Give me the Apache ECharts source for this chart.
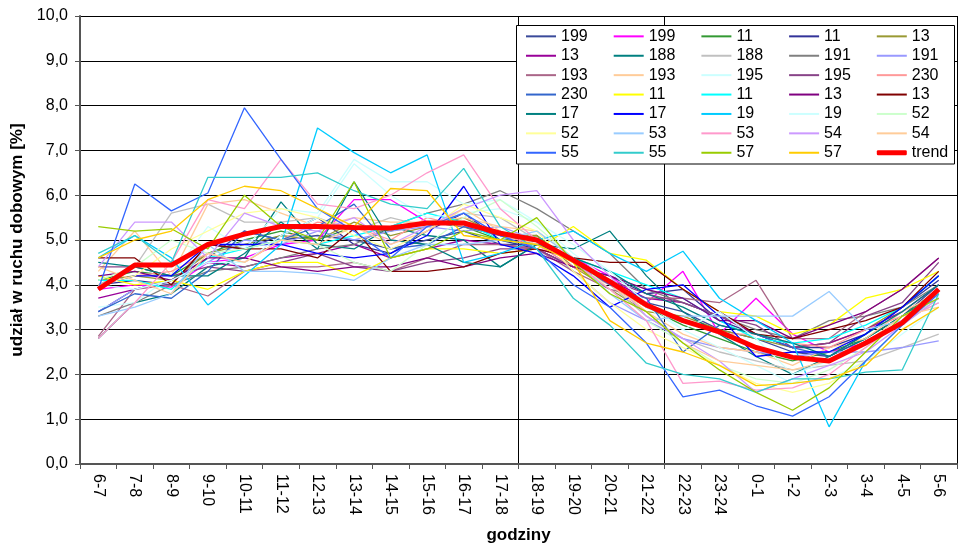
<!DOCTYPE html>
<html>
<head>
<meta charset="utf-8">
<script src="https://cdn.jsdelivr.net/npm/echarts@6/dist/echarts.min.js"></script>
<style>
  html, body { margin: 0; padding: 0; background: #fff; }
  #chart { width: 960px; height: 546px; }
</style>
</head>
<body>
<div id="chart"></div>
<script>
// Hourly intervals of the day
const categories = ['6-7','7-8','8-9','9-10','10-11','11-12','12-13','13-14','14-15','15-16','16-17','17-18',
  '18-19','19-20','20-21','21-22','22-23','23-24','0-1','1-2','2-3','3-4','4-5','5-6'];

// Station labels shown in the legend (in legend order)
const stationLabels = ['199','199','11','11','13','13','188','188','191','191','193','193','195','195','230',
  '230','11','11','13','13','17','17','19','19','52','52','53','53','54','54','55','55','57','57'];

const stationColors = ['#3A4A9A','#FF00FF','#339933','#333399','#999933','#990099','#008080','#C0C0C0','#808080','#9999FF',
  '#AA6688','#FFCC99','#CCFFFF','#884488','#FF9999','#3366CC','#FFFF00','#00FFFF','#800080','#800000',
  '#008080','#0000FF','#00CCFF','#CCFFFF','#CCFFCC','#FFFF99','#99CCFF','#FF99CC','#CC99FF','#FFCC99',
  '#3366FF','#33CCCC','#99CC00','#FFCC00'];

// Share of daily traffic [%] per station, one value per hour interval
const s0  = [3.4,3.9,4.1,4.6,5.2,5.0,5.1,5.0,4.8,5.0,5.2,4.9,4.9,4.6,4.1,3.6,3.4,3.0,2.8,2.5,2.4,2.8,3.3,4.0];
const s1  = [3.9,4.0,3.95,4.5,4.6,4.9,5.0,5.9,5.9,5.4,5.3,5.2,4.8,4.6,4.2,3.6,4.3,2.9,3.7,2.9,2.5,2.7,3.2,3.7];
const s2  = [4.1,4.3,4.2,4.7,5.0,5.2,5.0,5.3,5.2,5.4,5.3,5.0,5.1,4.5,4.0,3.5,3.1,2.8,2.5,2.3,2.5,2.8,3.3,3.9];
const s3  = [4.0,4.1,4.0,4.9,4.8,5.1,5.5,4.9,4.7,5.2,5.6,5.0,4.8,4.4,4.2,3.8,3.9,3.2,2.9,2.6,2.6,2.9,3.5,4.1];
const s4  = [4.1,4.2,4.1,4.7,4.9,5.1,5.0,5.4,5.1,5.3,5.5,5.1,5.1,4.4,3.9,3.4,3.3,3.0,2.8,2.6,2.7,3.0,3.5,4.2];
const s5  = [3.7,3.9,4.1,4.5,4.4,4.6,4.7,4.9,4.6,4.8,5.0,4.9,4.8,4.4,4.1,3.7,3.6,3.3,2.9,2.6,2.7,3.0,3.4,4.0];
const s6  = [2.8,3.6,3.8,4.4,4.6,5.85,4.9,4.8,5.3,5.1,5.0,4.4,4.9,4.8,5.2,4.2,3.4,2.9,2.4,2.0,2.4,2.8,3.3,3.8];
const s7  = [4.0,4.4,5.6,5.8,5.4,5.4,5.5,5.2,5.5,5.3,5.6,5.5,5.0,4.5,4.0,3.3,2.8,2.5,2.3,2.1,2.2,2.3,2.6,2.9];
const s8  = [3.3,3.6,4.0,4.3,4.4,4.6,4.8,4.9,5.3,5.6,5.8,6.1,5.7,5.2,4.7,3.9,3.6,3.3,3.0,2.8,3.2,3.3,3.5,4.0];
const s9  = [3.4,3.9,4.1,4.5,5.0,4.9,5.2,5.0,5.2,5.3,5.2,5.3,5.0,4.3,3.6,3.2,2.8,2.6,2.5,2.4,2.5,2.5,2.6,2.75];
const s10 = [2.85,3.9,4.0,3.75,4.3,4.4,4.4,4.5,4.3,4.6,4.9,4.9,4.8,4.3,3.9,3.7,3.7,3.6,4.1,2.8,2.8,3.4,3.9,4.6];
const s11 = [4.3,5.2,4.2,5.8,5.9,5.6,5.3,5.5,5.4,5.4,5.5,5.3,5.2,4.6,4.0,3.4,2.9,2.6,2.5,2.2,2.6,2.8,3.4,3.8];
const s12 = [3.5,3.6,4.2,5.3,4.8,5.7,5.6,6.8,6.3,6.3,5.8,5.9,5.4,4.7,4.1,3.5,3.0,2.6,2.2,1.8,1.9,2.3,2.9,3.5];
const s13 = [4.4,4.4,4.2,4.4,4.3,4.5,4.7,4.4,4.3,4.5,4.6,4.8,4.8,4.4,4.1,3.8,3.6,3.3,3.1,2.6,2.7,3.3,3.6,4.5];
const s14 = [4.0,4.2,4.3,4.7,4.5,5.0,5.4,5.3,5.0,5.5,5.3,5.1,4.9,4.4,4.0,3.5,3.2,2.9,2.9,2.7,2.6,3.0,3.3,3.7];
const s15 = [3.4,3.8,3.7,4.3,5.2,5.0,5.3,5.8,4.8,4.9,5.3,5.1,5.0,4.5,4.0,3.7,2.5,3.1,2.9,2.6,2.4,2.9,3.5,4.2];
const s16 = [4.2,4.0,4.1,3.9,4.3,4.5,4.5,4.2,4.6,4.8,4.8,4.7,4.8,5.3,4.7,4.55,3.9,3.4,3.3,2.9,3.1,3.7,3.9,4.3];
const s17 = [4.1,4.1,3.9,4.6,4.8,5.0,4.9,5.1,5.3,5.6,5.4,5.0,4.9,4.6,4.3,4.0,3.7,3.2,2.8,2.7,2.8,3.1,3.5,4.2];
const s18 = [4.2,4.3,4.1,4.6,4.6,4.4,4.3,4.4,4.4,4.6,4.4,4.6,4.7,4.4,4.2,3.9,3.7,3.2,3.2,2.8,3.1,3.4,3.9,4.6];
const s19 = [4.6,4.6,4.0,4.9,4.8,4.8,4.6,5.25,4.3,4.3,4.4,4.7,4.8,4.6,4.5,4.5,3.9,3.4,2.9,2.8,3.0,3.2,3.5,4.3];
const s20 = [4.5,4.4,4.2,4.2,4.7,5.4,4.8,6.3,5.0,4.9,4.5,4.4,4.9,4.6,4.3,3.8,3.5,3.1,2.9,2.7,2.4,2.9,3.4,4.0];
const s21 = [4.0,4.2,4.2,4.9,4.9,4.9,4.7,4.6,4.7,5.1,6.2,4.9,4.7,4.2,3.5,3.9,4.0,3.3,2.4,2.5,2.5,2.9,3.5,4.2];
const s22 = [4.6,5.1,4.6,3.55,4.2,4.9,7.5,6.95,6.5,6.9,4.5,4.7,5.0,5.2,4.7,4.3,4.75,3.7,3.2,2.7,0.83,2.3,3.1,3.9];
const s23 = [4.0,3.9,4.1,4.5,4.5,5.1,5.5,6.7,6.0,5.5,5.6,5.7,5.4,4.9,4.3,3.6,3.0,3.4,2.8,2.0,2.3,2.7,3.3,3.7];
const s24 = [4.1,4.4,5.0,4.7,4.8,5.0,4.9,4.5,4.3,4.9,5.5,5.9,5.3,4.6,3.9,3.2,2.7,2.2,1.9,1.8,2.1,2.6,3.2,3.7];
const s25 = [4.0,4.2,4.8,5.2,5.6,5.7,5.5,5.1,4.8,5.2,5.8,5.5,5.2,4.3,3.6,3.0,2.6,2.2,1.8,1.6,1.8,2.3,3.1,3.7];
const s26 = [3.3,3.5,3.8,4.9,4.3,4.3,4.25,4.1,4.6,4.9,4.9,5.0,5.2,4.6,3.8,3.2,3.3,3.3,3.3,3.3,3.85,3.0,3.2,3.6];
const s27 = [2.8,3.6,4.5,5.9,5.7,6.8,5.8,5.7,6.0,6.5,6.9,5.7,5.0,4.5,3.9,3.2,1.8,1.85,1.65,1.7,2.0,2.6,3.2,3.6];
const s28 = [4.4,5.4,5.4,4.6,5.6,5.3,5.2,5.5,4.9,5.3,5.7,6.0,6.1,5.0,4.2,3.3,2.8,2.3,1.6,1.9,2.2,2.5,3.1,3.7];
const s29 = [4.4,4.1,3.8,4.7,4.5,5.0,4.9,5.3,4.9,5.2,5.7,5.2,4.9,4.5,4.1,3.4,2.7,2.3,2.2,2.1,2.3,2.7,3.3,3.5];
const s30 = [3.9,6.25,5.65,6.05,7.95,6.8,5.7,5.2,4.6,5.3,5.6,5.1,4.8,4.0,3.5,2.7,1.5,1.65,1.3,1.07,1.5,2.3,3.1,3.8];
const s31 = [4.7,5.1,4.5,6.4,6.4,6.4,6.5,6.1,5.8,5.7,6.6,5.3,4.8,3.7,3.1,2.25,2.0,1.9,1.6,1.9,1.9,2.05,2.1,3.8];
const s32 = [5.3,5.2,5.25,4.8,6.0,5.3,5.0,6.3,4.6,4.8,5.2,5.0,5.5,4.5,3.8,3.4,2.7,2.1,1.6,1.2,1.7,2.5,3.3,3.7];
const s33 = [4.6,5.0,5.2,5.9,6.2,6.1,5.7,5.3,6.15,6.1,5.1,5.0,4.9,4.5,3.2,2.7,2.5,2.2,1.75,1.8,1.9,2.2,3.0,3.5];
const trend = [3.9,4.44,4.44,4.9,5.13,5.3,5.3,5.28,5.27,5.38,5.38,5.15,5.0,4.55,4.07,3.55,3.2,2.95,2.6,2.38,2.3,2.7,3.15,3.9];

const stationData = [s0,s1,s2,s3,s4,s5,s6,s7,s8,s9,s10,s11,s12,s13,s14,s15,s16,s17,
  s18,s19,s20,s21,s22,s23,s24,s25,s26,s27,s28,s29,s30,s31,s32,s33];

// Hour boundaries marked with vertical lines
const dividerBefore = ['18-19', '22-23'];
const dividerIdx = dividerBefore.map(c => categories.indexOf(c));

const FONT = "'Liberation Sans', Arial, sans-serif";
const seriesKeys = stationLabels.map((_, i) => 'st' + i);

const series = stationData.map((d, i) => ({
  name: seriesKeys[i],
  type: 'line',
  data: d,
  symbol: 'none',
  z: 2,
  lineStyle: { color: stationColors[i], width: 1.3 },
  itemStyle: { color: stationColors[i] },
  emphasis: { disabled: true }
}));
series.push({
  name: 'trend',
  type: 'line',
  data: trend,
  symbol: 'none',
  z: 2.5,
  lineStyle: { color: '#FF0000', width: 5 },
  itemStyle: { color: '#FF0000' },
  emphasis: { disabled: true }
});

const legendTop = 28;
const legendLeft = 526;
const colPitch = 87.7;
const rowPitch = 19.4;

const chart = echarts.init(document.getElementById('chart'), null, { renderer: 'canvas' });
chart.setOption({
  animation: false,
  backgroundColor: '#fff',
  textStyle: { fontFamily: FONT },
  grid: { left: 80, right: 3, top: 16, bottom: 82, containLabel: false, outerBoundsMode: 'none' },
  xAxis: {
    type: 'category',
    data: categories,
    boundaryGap: true,
    name: 'godziny',
    nameLocation: 'middle',
    nameGap: 63,
    nameTextStyle: { fontFamily: FONT, fontSize: 17, fontWeight: 'bold', color: '#000' },
    axisLine: { show: true, lineStyle: { color: '#555', width: 2 } },
    axisTick: { show: true, interval: 0, length: 5, lineStyle: { color: '#555' } },
    axisLabel: { interval: 0, rotate: -90, margin: 10, fontFamily: FONT, fontSize: 16, color: '#000' },
    splitLine: {
      show: true,
      interval: (idx) => dividerIdx.indexOf(idx) >= 0,
      lineStyle: { color: '#000', width: 1 }
    }
  },
  yAxis: {
    type: 'value',
    min: 0,
    max: 10,
    interval: 1,
    name: 'udział w ruchu dobowym [%]',
    nameLocation: 'middle',
    nameGap: 49,
    nameRotate: 90,
    nameTextStyle: { fontFamily: FONT, fontSize: 17, fontWeight: 'bold', color: '#000' },
    axisLine: { show: true, lineStyle: { color: '#555', width: 2 } },
    axisTick: { show: true, length: 5, lineStyle: { color: '#555' } },
    axisLabel: {
      margin: 12, fontFamily: FONT, fontSize: 16, color: '#000',
      formatter: v => v.toFixed(1).replace('.', ',')
    },
    splitLine: { show: true, lineStyle: { color: '#000', width: 1 } }
  },
  graphic: {
    elements: [{
      type: 'rect',
      z: 3,
      shape: { x: 516.5, y: 25.5, width: 438, height: 138.5 },
      style: { fill: '#fff', stroke: '#000', lineWidth: 1 }
    }]
  },
  legend: [{
    z: 5,
    left: legendLeft,
    top: legendTop,
    width: 440,
    padding: 0,
    orient: 'horizontal',
    itemWidth: 30,
    itemHeight: 2,
    itemGap: colPitch - 85,
    icon: 'rect',
    selectedMode: false,
    data: seriesKeys,
    formatter: name => stationLabels[seriesKeys.indexOf(name)],
    textStyle: { fontFamily: FONT, fontSize: 16, color: '#000', width: 50, lineHeight: rowPitch - (colPitch - 85) }
  }, {
    z: 5,
    left: legendLeft + 4 * colPitch,
    top: legendTop + 6 * rowPitch,
    padding: 0,
    itemWidth: 30,
    itemHeight: 5,
    icon: 'roundRect',
    selectedMode: false,
    data: ['trend'],
    textStyle: { fontFamily: FONT, fontSize: 16, color: '#000', lineHeight: rowPitch - (colPitch - 85) }
  }],
  series: series
});
</script>
</body>
</html>
